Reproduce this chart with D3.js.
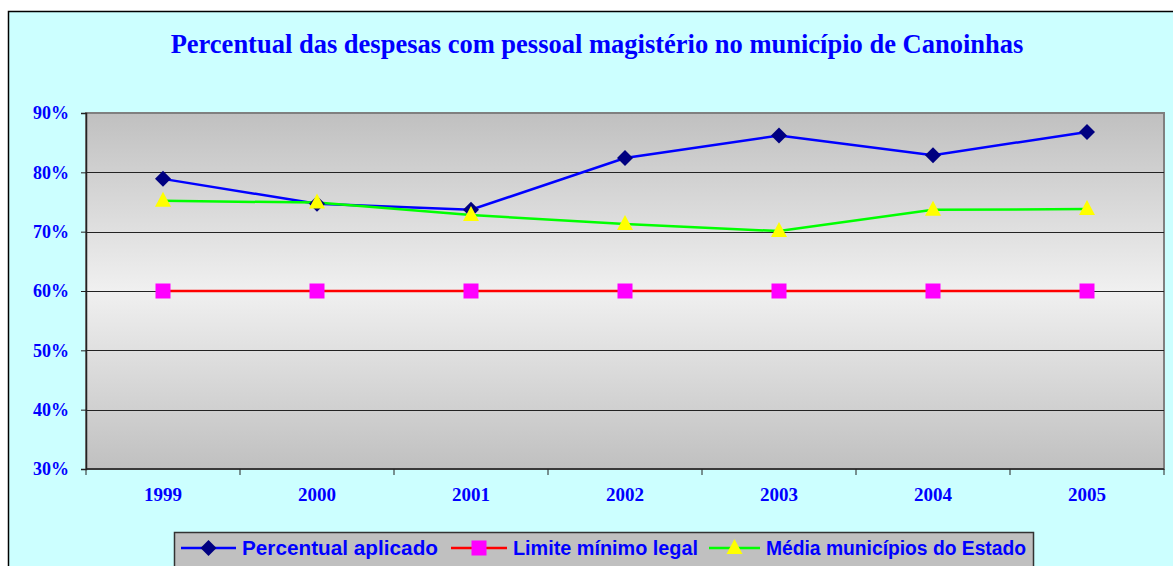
<!DOCTYPE html>
<html>
<head>
<meta charset="utf-8">
<script src="https://cdn.jsdelivr.net/npm/d3@7"></script>
<style>
    body { margin: 0; background: #fff; }
    svg { display: block; }
</style>
</head>
<body>
<div id="chart"></div>
<script>
(function() {
    let w = 1173;
    let h = 566;

    let years = ["1999", "2000", "2001", "2002", "2003", "2004", "2005"];
    let aplicado = [78.9, 74.7, 73.7, 82.4, 86.2, 82.9, 86.8];
    let limite = [60, 60, 60, 60, 60, 60, 60];
    let media = [75.2, 74.9, 72.8, 71.3, 70.1, 73.7, 73.8];
    let yTicks = [30, 40, 50, 60, 70, 80, 90];

    let seriesNames = ["Percentual aplicado", "Limite mínimo legal", "Média municípios do Estado"];

    let svg = d3.select("#chart")
        .append("svg")
        .attr("width", w)
        .attr("height", h);

    // outer chart area
    svg.append("rect")
        .attr("x", 8.5)
        .attr("y", 11.5)
        .attr("width", 1180)
        .attr("height", 600)
        .attr("fill", "#ccffff")
        .attr("stroke", "#000")
        .attr("stroke-width", 1.5);

    let left = 86, right = 1164, top = 113, bottom = 469;

    let x = d3.scaleBand().domain(years).range([left, right]);
    let y = d3.scaleLinear().domain([30, 90]).range([bottom, top]);

    // plot background gradient
    let grad = svg.append("defs").append("linearGradient")
        .attr("id", "plotBg")
        .attr("x1", 0).attr("y1", 0).attr("x2", 0).attr("y2", 1);
    grad.append("stop").attr("offset", "0%").attr("stop-color", "#c0c0c0");
    grad.append("stop").attr("offset", "50%").attr("stop-color", "#f0f0f0");
    grad.append("stop").attr("offset", "100%").attr("stop-color", "#c0c0c0");

    svg.append("rect")
        .attr("x", left)
        .attr("y", top)
        .attr("width", right - left)
        .attr("height", bottom - top)
        .attr("fill", "url(#plotBg)")
        .attr("stroke", "#808080")
        .attr("stroke-width", 2);

    // gridlines
    svg.selectAll(".grid")
        .data(yTicks.slice(1, -1))
        .enter()
        .append("line")
        .attr("class", "grid")
        .attr("x1", left)
        .attr("x2", right)
        .attr("y1", (d) => Math.round(y(d)) + 0.5)
        .attr("y2", (d) => Math.round(y(d)) + 0.5)
        .attr("stroke", "#222")
        .attr("stroke-width", 1);

    // y axis
    let yAxis = svg.append("g")
        .attr("transform", "translate(" + left + ",0)")
        .call(d3.axisLeft(y).tickValues(yTicks).tickSize(5).tickPadding(12).tickFormat((d) => d + "%"));
    yAxis.select(".domain").attr("stroke", "#222").attr("stroke-width", 1.5);
    yAxis.selectAll(".tick line").attr("stroke", "#222");
    yAxis.selectAll("text")
        .attr("fill", "#0000ff")
        .style("font-family", "'Liberation Serif', 'Times New Roman', serif")
        .style("font-weight", "bold")
        .style("font-size", "18px");

    // x axis
    let xAxis = svg.append("g")
        .attr("transform", "translate(0," + bottom + ")");
    xAxis.append("line")
        .attr("x1", left).attr("x2", right)
        .attr("y1", 0).attr("y2", 0)
        .attr("stroke", "#222").attr("stroke-width", 1.5);
    let bounds = years.map((d) => x(d)).concat([right]);
    xAxis.selectAll(".xt")
        .data(bounds)
        .enter()
        .append("line")
        .attr("x1", (d) => d).attr("x2", (d) => d)
        .attr("y1", 0).attr("y2", 6)
        .attr("stroke", "#222");
    xAxis.selectAll(".xl")
        .data(years)
        .enter()
        .append("text")
        .attr("x", (d) => x(d) + x.bandwidth() / 2)
        .attr("y", 32)
        .attr("text-anchor", "middle")
        .attr("fill", "#0000ff")
        .style("font-family", "'Liberation Serif', 'Times New Roman', serif")
        .style("font-weight", "bold")
        .style("font-size", "19px")
        .text((d) => d);

    // title
    svg.append("text")
        .attr("x", 597)
        .attr("y", 53)
        .attr("text-anchor", "middle")
        .attr("fill", "#0000ff")
        .style("font-family", "'Liberation Serif', 'Times New Roman', serif")
        .style("font-weight", "bold")
        .style("font-size", "26.5px")
        .text("Percentual das despesas com pessoal magistério no município de Canoinhas");

    let cx = (i) => x(years[i]) + x.bandwidth() / 2;

    let line = d3.line()
        .x((d, i) => cx(i))
        .y((d) => y(d));

    let series = [
        { values: aplicado, stroke: "#0000ff", fill: "#000080", shape: "diamond" },
        { values: limite, stroke: "#ff0000", fill: "#ff00ff", shape: "square" },
        { values: media, stroke: "#00ff00", fill: "#ffff00", shape: "triangle" }
    ];

    let drawMarker = (g, shape, fill, px, py) => {
        if (shape === "diamond") {
            g.append("path")
                .attr("d", "M" + px + "," + (py - 8) + "L" + (px + 8) + "," + py + "L" + px + "," + (py + 8) + "L" + (px - 8) + "," + py + "Z")
                .attr("fill", fill);
        } else if (shape === "square") {
            g.append("rect")
                .attr("x", px - 7.5).attr("y", py - 7.5)
                .attr("width", 15).attr("height", 15)
                .attr("fill", fill);
        } else {
            g.append("path")
                .attr("d", "M" + px + "," + (py - 9) + "L" + (px + 8) + "," + (py + 6) + "L" + (px - 8) + "," + (py + 6) + "Z")
                .attr("fill", fill);
        }
    };

    series.forEach((s) => {
        svg.append("path")
            .datum(s.values)
            .attr("d", line)
            .attr("fill", "none")
            .attr("stroke", s.stroke)
            .attr("stroke-width", 2.5);
    });
    series.forEach((s) => {
        let g = svg.append("g");
        s.values.forEach((v, i) => drawMarker(g, s.shape, s.fill, cx(i), y(v)));
    });

    // legend
    let legend = svg.append("g");
    legend.append("rect")
        .attr("x", 174.5)
        .attr("y", 532.5)
        .attr("width", 859)
        .attr("height", 40)
        .attr("fill", "#c0c0c0")
        .attr("stroke", "#333")
        .attr("stroke-width", 1.5);

    let legendX = [181, 451, 709];
    let legendW = [55, 56, 51];
    let legendTextW = [196, 185, 260];
    series.forEach((s, i) => {
        let lx = legendX[i];
        let ly = 548;
        legend.append("line")
            .attr("x1", lx).attr("x2", lx + legendW[i])
            .attr("y1", ly).attr("y2", ly)
            .attr("stroke", s.stroke)
            .attr("stroke-width", 2.5);
        drawMarker(legend, s.shape, s.fill, lx + legendW[i] / 2, ly);
        legend.append("text")
            .attr("x", lx + legendW[i] + 6)
            .attr("y", ly + 7)
            .attr("fill", "#0000ff")
            .attr("textLength", legendTextW[i])
            .attr("lengthAdjust", "spacingAndGlyphs")
            .style("font-family", "'Liberation Sans', Arial, sans-serif")
            .style("font-weight", "bold")
            .style("font-size", "20px")
            .text(seriesNames[i]);
    });
})();
</script>
</body>
</html>
